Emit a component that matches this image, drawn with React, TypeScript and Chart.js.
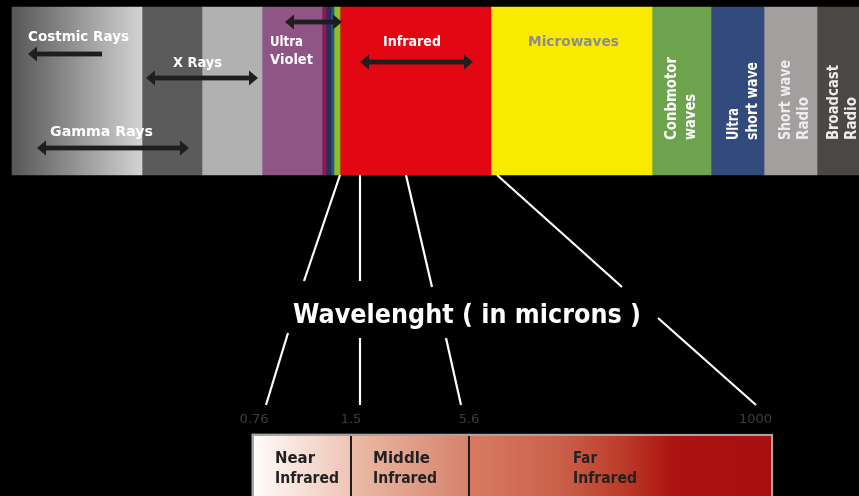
import React, { useEffect, useRef } from "react";
import { Chart, registerables } from "chart.js";

Chart.register(...registerables);

// ---------- DATA ----------
const rowLabels = ["Spectrum", "Infrared"];

const bandNames = [
  "Costmic Rays",
  "X Rays (hard)",
  "X Rays (soft)",
  "Ultra Violet",
  "Violet",
  "Blue",
  "Green",
  "Yellow",
  "Infrared",
  "Microwaves",
  "Conbmotor waves",
  "Ultra short wave",
  "Short wave Radio",
  "Broadcast Radio",
];
const bandSpans = [130, 60, 60, 60, 4, 5, 3, 6, 151, 161, 59, 53, 53, 42];
const bandColors = [
  "#575757",
  "#5b5b5b",
  "#b1b1b1",
  "#8f5585",
  "#8b1a4f",
  "#2d2d60",
  "#1f5c7a",
  "#8cbe28",
  "#e30613",
  "#f9ea00",
  "#6ea34d",
  "#334a7c",
  "#a39f9f",
  "#4b4745",
];

const irNames = ["Near Infrared", "Middle Infrared", "Far Infrared"];
const irSpans = [99, 118, 304];
const irTickLabels = ["0.76", "1.5", "5.6", "1000"];

// ---------- STYLE / LAYOUT ----------
const W = 859;
const H = 496;
const IR_AXIS_MIN = -240;
const IR_AXIS_MAX = 607;

const cosmicStops: [number, string][] = [
  [0, "#565656"],
  [1, "#d3d3d3"],
];
const irStops: [number, string][][] = [
  [
    [0, "#ffffff"],
    [0.12, "#fdf6f3"],
    [1, "#eec4b4"],
  ],
  [
    [0, "#ecbca8"],
    [1, "#d5826a"],
  ],
  [
    [0, "#d87b63"],
    [0.3, "#ca604a"],
    [0.5, "#bd3c2a"],
    [0.68, "#ac1210"],
    [1, "#aa0f0f"],
  ],
];

const FONT = '"DejaVu Sans", sans-serif';

function cumulative(spans: number[]) {
  const out: [number, number][] = [];
  let s = 0;
  for (const v of spans) {
    out.push([s, s + v]);
    s += v;
  }
  return out;
}
const bandRanges = cumulative(bandSpans);
const irRanges = cumulative(irSpans);
const bandTotal = bandSpans.reduce((a, b) => a + b, 0);
const irTotal = irSpans.reduce((a, b) => a + b, 0);

function gradientFill(axisId: string, range: [number, number], stops: [number, string][]) {
  return (c: any) => {
    const chart = c.chart;
    const sc = chart.scales && chart.scales[axisId];
    if (!sc || !chart.chartArea) return stops[0][1];
    const x0 = sc.getPixelForValue(range[0]);
    const x1 = sc.getPixelForValue(range[1]);
    const g = chart.ctx.createLinearGradient(x0, 0, x1, 0);
    stops.forEach(([o, col]) => g.addColorStop(o, col));
    return g;
  };
}

// annotations (text in top band) : [text, x, baselineY, color, targetWidth]
const topTexts: [string, number, number, string, number][] = [
  ["Costmic Rays", 28, 41, "#ffffff", 101],
  ["X Rays", 173, 67, "#ffffff", 49],
  ["Gamma Rays", 50, 136, "#ffffff", 103],
  ["Ultra", 270, 46, "#ffffff", 33],
  ["Violet", 270, 64, "#ffffff", 43],
  ["Infrared", 383, 46, "#ffffff", 58],
  ["Microwaves", 528, 46, "#8d8d8d", 91],
];
// vertical texts: [text, baselineX, startY, color, targetLength]
const vertTexts: [string, number, number, string, number][] = [
  ["Conbmotor", 676, 140, "#ffffff", 83],
  ["waves", 695, 140, "#ffffff", 46],
  ["Ultra", 738, 140, "#ffffff", 32],
  ["short wave", 757, 140, "#ffffff", 78],
  ["Short wave", 790, 140, "#ececec", 80],
  ["Radio", 808, 140, "#ececec", 43],
  ["Broadcast", 838, 140, "#ececec", 75],
  ["Radio", 856, 140, "#ececec", 43],
];
// arrows: [x1, x2, y, headLeft, headRight]
const arrows: [number, number, number, boolean, boolean][] = [
  [28, 102, 54, true, false],
  [146, 258, 78, true, true],
  [37, 189, 148, true, true],
  [285, 342, 22, true, true],
  [360, 473, 62, true, true],
];
// connectors from spectrum band (xTop value) to title area
const upperLines: [number, number, number][] = [
  [328, 304, 281],
  [348, 360, 281],
  [394, 432, 287],
  [485, 622, 287],
];
// connectors from title area to IR scale (xIR value)
const lowerLines: [number, number, number][] = [
  [288, 333, 14],
  [360, 338, 108],
  [446, 338, 209],
  [658, 318, 504],
];
const irTextOffsets = [23, 22, 104];
const irTextWidths: [number, number][] = [
  [40, 64],
  [57, 64],
  [24, 64],
];

function fitText(ctx: CanvasRenderingContext2D, text: string, x: number, y: number, font: string, target?: number) {
  ctx.font = font;
  const w = ctx.measureText(text).width;
  const sx = target ? target / w : 1;
  ctx.save();
  ctx.translate(x, y);
  ctx.scale(sx, 1);
  ctx.fillText(text, 0, 0);
  ctx.restore();
}

function drawArrow(ctx: CanvasRenderingContext2D, x1: number, x2: number, y: number, hl: boolean, hr: boolean) {
  const sh = 2.4;
  const hh = 7.5;
  const hlen = 9;
  ctx.fillStyle = "#1e1e1e";
  const a = hl ? x1 + hlen : x1;
  const b = hr ? x2 - hlen : x2;
  ctx.fillRect(a, y - sh, b - a, sh * 2);
  if (hl) {
    ctx.beginPath();
    ctx.moveTo(x1, y);
    ctx.lineTo(x1 + hlen, y - hh);
    ctx.lineTo(x1 + hlen, y + hh);
    ctx.closePath();
    ctx.fill();
  }
  if (hr) {
    ctx.beginPath();
    ctx.moveTo(x2, y);
    ctx.lineTo(x2 - hlen, y - hh);
    ctx.lineTo(x2 - hlen, y + hh);
    ctx.closePath();
    ctx.fill();
  }
}

const diagramPlugin = {
  id: "diagram",
  beforeDraw(chart: any) {
    const ctx = chart.ctx;
    ctx.save();
    ctx.fillStyle = "#000000";
    ctx.fillRect(0, 0, chart.width, chart.height);
    ctx.restore();
  },
  afterDatasetsDraw(chart: any) {
    const ctx: CanvasRenderingContext2D = chart.ctx;
    const xTop = chart.scales.xTop;
    const xIR = chart.scales.xIR;
    const topMeta = chart.getDatasetMeta(0);
    const topBar = topMeta.data[0];
    const bandBottom = topBar.y + topBar.height / 2;
    const irMeta = chart.getDatasetMeta(bandNames.length);
    const irBar = irMeta.data[1];
    const irTop = irBar.y - irBar.height / 2;

    ctx.save();
    // IR bar border and dividers
    const ix0 = xIR.getPixelForValue(0);
    const ix1 = xIR.getPixelForValue(irTotal);
    ctx.strokeStyle = "#a6a6a6";
    ctx.lineWidth = 2;
    ctx.strokeRect(ix0 + 1, irTop + 1, ix1 - ix0 - 2, irBar.height + 10);
    ctx.fillStyle = "#1c1c1c";
    irRanges.slice(0, -1).forEach((r) => {
      const px = xIR.getPixelForValue(r[1]);
      ctx.fillRect(px - 1, irTop + 2, 2, irBar.height);
    });

    // IR texts
    ctx.fillStyle = "#222222";
    ctx.textAlign = "left";
    ctx.textBaseline = "alphabetic";
    irNames.forEach((name, i) => {
      const parts = name.split(" ");
      const px = xIR.getPixelForValue(irRanges[i][0]) + irTextOffsets[i];
      fitText(ctx, parts[0], px, irTop + 29, `bold 15px ${FONT}`, irTextWidths[i][0]);
      fitText(ctx, parts[1], px, irTop + 49, `bold 15px ${FONT}`, irTextWidths[i][1]);
    });

    // IR tick labels
    ctx.fillStyle = "#3e3e3e";
    ctx.font = `13px ${FONT}`;
    const bounds = [0, ...irRanges.map((r) => r[1])];
    irTickLabels.forEach((t, i) => {
      let px = xIR.getPixelForValue(bounds[i]);
      if (i === irTickLabels.length - 1) {
        ctx.textAlign = "right";
        px -= 1;
      } else {
        ctx.textAlign = "center";
        if (i === 0) px += 2;
      }
      ctx.fillText(t, px, irTop - 11);
    });

    // arrows
    arrows.forEach((a) => drawArrow(ctx, a[0], a[1], a[2], a[3], a[4]));

    // top texts
    ctx.textAlign = "left";
    topTexts.forEach(([t, x, y, col, tw]) => {
      ctx.fillStyle = col;
      fitText(ctx, t, x, y, `bold 14px ${FONT}`, tw);
    });

    // vertical texts
    vertTexts.forEach(([t, x, y, col, tw]) => {
      ctx.save();
      ctx.fillStyle = col;
      ctx.translate(x, y);
      ctx.rotate(-Math.PI / 2);
      fitText(ctx, t, 0, 0, `bold 15px ${FONT}`, tw);
      ctx.restore();
    });

    // connector lines
    ctx.strokeStyle = "#ffffff";
    ctx.lineWidth = 2.2;
    ctx.lineCap = "butt";
    upperLines.forEach(([v, x, y]) => {
      ctx.beginPath();
      ctx.moveTo(xTop.getPixelForValue(v), bandBottom);
      ctx.lineTo(x, y);
      ctx.stroke();
    });
    lowerLines.forEach(([x, y, v]) => {
      ctx.beginPath();
      ctx.moveTo(x, y);
      ctx.lineTo(xIR.getPixelForValue(v), irTop - 29);
      ctx.stroke();
    });

    // title
    ctx.fillStyle = "#ffffff";
    ctx.textAlign = "left";
    fitText(ctx, "Wavelenght ( in microns )", 293, 323, `bold 27px ${FONT}`, 348);
    ctx.restore();
  },
};

export default function App() {
  const ref = useRef<HTMLCanvasElement | null>(null);
  useEffect(() => {
    if (!ref.current) return;
    const datasets: any[] = [];
    bandNames.forEach((name, i) => {
      datasets.push({
        label: name,
        data: [bandRanges[i], null],
        xAxisID: "xTop",
        yAxisID: "y",
        backgroundColor: i === 0 ? gradientFill("xTop", bandRanges[i], cosmicStops) : bandColors[i],
        borderWidth: 0,
        barThickness: 168,
        grouped: false,
        clip: false,
      });
    });
    irNames.forEach((name, i) => {
      datasets.push({
        label: name,
        data: [null, irRanges[i]],
        xAxisID: "xIR",
        yAxisID: "y",
        backgroundColor: gradientFill("xIR", irRanges[i], irStops[i]),
        borderWidth: 0,
        barThickness: 66,
        grouped: false,
        clip: false,
      });
    });
    const chart = new Chart(ref.current, {
      type: "bar",
      data: { labels: rowLabels, datasets },
      options: {
        indexAxis: "y",
        animation: false,
        responsive: false,
        layout: { padding: { left: 12, right: 0, top: 91, bottom: 29 } },
        scales: {
          xTop: { type: "linear", min: 0, max: bandTotal, display: false, grid: { display: false } },
          xIR: { type: "linear", min: IR_AXIS_MIN, max: IR_AXIS_MAX, display: false, grid: { display: false } },
          y: { type: "category", offset: false, display: false, grid: { display: false } },
        },
        plugins: {
          legend: { display: false },
          tooltip: { enabled: false },
        },
      } as any,
      plugins: [diagramPlugin],
    });
    return () => chart.destroy();
  }, []);
  return (
    <div style={{ position: "fixed", left: 0, top: 0, width: W, height: H, background: "#000" }}>
      <canvas ref={ref} width={W} height={H} style={{ display: "block", width: W, height: H }} />
    </div>
  );
}
